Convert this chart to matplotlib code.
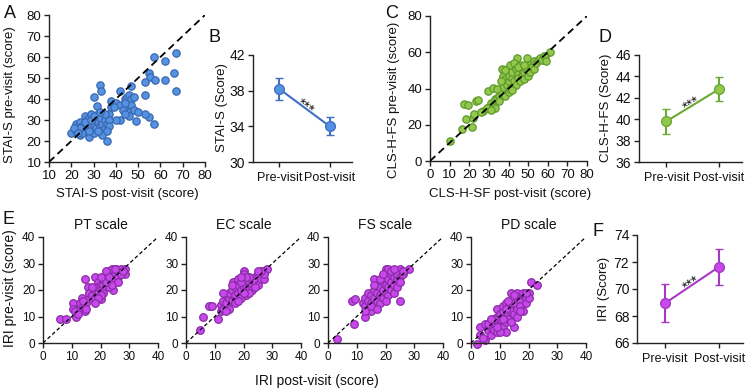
import numpy as np
import matplotlib
matplotlib.use("Agg")
import matplotlib.pyplot as plt
import math

plt.rcParams['font.family'] = ['Liberation Sans', 'DejaVu Sans']

# ---------------- data ----------------
# Panel A: STAI-S (post, pre)
stai_post = [36,34,28,20,49,57,55,53,53,33,33.5,30,42,47,31.5,57,62,67,66,62,67,55,55.5,57.5,53,
             38,40,42,44,45,46,47,48,45,43,46,47,44,42,40,38,37,39,46,44,48,50,
             22,22,23,24,24,25,26,27,27,28,28,29,29,30,30,31,31,32,32,33,33,34,35,35,36,37,37,
             25,26,28,29,30,32,24,21,23,35,36,33]
stai_pre = [20,23,23,24,29.5,28,31.5,33,42,46.5,44,41,44,46,36.5,60,58,62,52.5,49,44,52.5,50.5,49,48,
            39,38,37,40,41,42,40,41,36,35,34,37,38,30,30,36,33,36,32,33,35,34,
            28,25,27,29,23,24,32,30,27,31,22,33,27,28,24,30,26,33,29,27,31,28,30,26,28,30,27,
            27,29,25,30,32,25,26,26,24,33,25,34]

# Panel C: CLS-H-FS (post, pre)
cls_post = [10.2,16.2,17.5,19.2,18.4,22.1,21.4,22.6,23.5,24.7,27.2,29.8,32.3,36.6,44.3,49.4,61.4,57.9,58.7,
            30,31,32,33,34,35,35,36,37,37,38,38,39,39,40,40,40,41,41,42,42,43,43,44,44,45,45,46,46,47,47,
            48,48,49,50,50,51,51,52,53,53,54,55,56,57,58,59,36,34,38,42,45,48,33,29,31,26]
cls_pre = [11.1,17.6,31.4,30.8,23.1,23.5,18.9,25.9,32.9,33.8,27.7,38.8,40.3,50.8,56.9,56.9,60,55.5,58.2,
           30,32,31,34,35,36,33,38,41,47,45,36,42,51,44,47,38,53,40,46,49,44,54,51,42,48,46,53,44,50,47,
           49,45,51,50,47,53,49,52,55,51,54,56,57,56,58,55,44,40,50,39,52,53,29,29,28,27]

# Panel E: IRI subscales (post, pre)
pt_post = [6,8,10.5,10.5,11.5,12.5,14.5,13.5,14.5,15.5,17,18,19,20,24.5,28.5,28.5,25.5,
           11,12,13,14,15,16,16,17,18,18,19,19,20,20,21,21,22,22,23,23,24,24,25,25,26,26,27,27,28,
           23,22,21,20,17,19,18,24,26,22,20,15,14,25,23]
pt_pre = [9,9,15,13,10,13,12,17,24,21,19.5,25,23,16.5,20,26,28,28,
          12,11,15,14,15,17,19,18,20,17,21,19,22,20,22,24,21,25,23,27,28,25,26,24,27,25,28,26,27,
          21,27,19,18,21,17,15,22,23,23,25,13,16,28,25]

ec_post = [5,6,8,9,11,12,12,13,13,14,14,15,15,16,16,16.5,17,17,18,18,18,19,19,20,20,20,20,21,21,21,
           22,22,23,23,23,24,24,25,25,26,26,27,27,28,27,22,19,17,15,14,24,26,25,13,16,22,21,18,20,19]
ec_pre = [5,10,14,14,9,14.5,12,13,16,15,18,17,19,16,20,23,18,21,19,22,24,20,17,21,23,27,26,20,22,18,
          23,21,24,22,20,25,23,26,22,25,24,27,24,28,26,25,23,15,13,12,21,27,27,19,22,19,25,16,19,25]

fs_post = [3,9,8.5,9.5,13,16,20,21,25,25,28,
           12,13,13,14,14,14,15,15,15,16,16,16,17,17,17,18,18,18,19,19,19,20,20,20,21,21,21,22,22,22,
           23,23,23,24,24,24,25,25,26,26,15,17,18,19,22,23,20,13,16]
fs_pre = [1.5,7,16,16.5,10,24,28,28,16,28,28,
          15,14,17,13,16,19,15,18,12,17,14,20,16,19,22,18,15,21,20,17,23,19,22,25,21,18,24,23,20,26,
          22,25,19,24,26,21,25,23,26,27,14,13,24,26,27,28,16,12,22]

pd_post = [2,5,3,3,4,5,6,7,7,8,8,9,9,9,10,10,10,11,11,11,12,12,12,13,13,13,14,14,14,15,15,15,
           16,16,16,17,17,18,18,18,19,19,20,20,21,23,12,10,8,6,14,16,11,13,17,9,7,19,15,12]
pd_pre = [-0.5,1,3,6,2,7,5,6,3,8,5,10,4,13,7,11,9,12,6,14,10,8,15,13,11,9,14,19,12,15,11,6,
          17,13,19,16,14,18,19,12,17,15,19,17,23,22,4,4,9,7,8,10,9,16,12,6,9,19,18,13]

# Mean +/- error panels
cats = ['Pre-visit', 'Post-visit']
stai_mean = [38.2, 34.0]
stai_err = [1.2, 1.0]
clsh_mean = [39.8, 42.8]
clsh_err = [1.2, 1.1]
iri_mean = [68.95, 71.65]
iri_err = [1.4, 1.35]

# ---------------- style ----------------
BLUE_F, BLUE_E, BLUE_L = '#5592E3', '#3A68B0', '#3F70C2'
GREEN_F, GREEN_E, GREEN_L = '#93C84D', '#5E9A2A', '#6AA932'
PURP_F, PURP_E, PURP_L = '#C948EC', '#8B2CA8', '#A638C4'
W, H = 746, 390

fig = plt.figure(figsize=(W/100, H/100), dpi=100)

def ax_px(l, t, r, b):
    return fig.add_axes([l/W, 1-b/H, (r-l)/W, (b-t)/H])

def style(ax, fs=9):
    for s in ['top', 'right']:
        ax.spines[s].set_visible(False)
    for s in ['left', 'bottom']:
        ax.spines[s].set_color('#222222')
        ax.spines[s].set_linewidth(1.0)
    ax.tick_params(direction='out', length=3.5, width=1.0, colors='#222222', labelsize=fs,
                   labelcolor='#111111', pad=2)

def scatter_panel(ax, x, y, fc, ec, lim, ticks_x, ticks_y, fs=9.5, s=28, dash_lw=1.3, dashes=(4, 2.5)):
    ax.plot(lim, lim, color='black', lw=dash_lw, ls=(0, dashes), zorder=3)
    ax.scatter(x, y, s=s, facecolor=fc, edgecolor=ec, linewidth=0.9, zorder=2, clip_on=False)
    ax.set_xlim(lim)
    ax.set_ylim(lim)
    ax.set_xticks(ticks_x)
    ax.set_yticks(ticks_y)
    style(ax, fs)

def stars(ax, m, lc):
    p0 = ax.transData.transform((0, m[0]))
    p1 = ax.transData.transform((1, m[1]))
    ang = math.degrees(math.atan2(p1[1]-p0[1], p1[0]-p0[0]))
    off = 1.0
    nx, ny = -math.sin(math.radians(ang))*off, math.cos(math.radians(ang))*off
    ax.annotate('***', xy=(0.5, (m[0]+m[1])/2), xytext=(nx, ny), textcoords='offset points',
                rotation=ang, rotation_mode='anchor', ha='center', va='center', fontsize=11,
                color='#111111')

def mean_panel(ax, m, e, fc, ec, lc, ylim, yticks):
    ax.errorbar([0, 1], m, yerr=e, color=lc, lw=1.5, capsize=3, capthick=1.5,
                marker='o', ms=7, mfc=fc, mec=lc, mew=1.0, zorder=3, clip_on=False)
    ax.set_xlim(-0.52, 1.44)
    ax.set_ylim(ylim)
    ax.set_yticks(yticks)
    ax.set_xticks([0, 1])
    ax.set_xticklabels(cats)
    style(ax, 10)
    ax.tick_params(axis='x', labelsize=9, pad=4)
    stars(ax, m, lc)

# Panel A
axA = ax_px(49, 15, 205, 162)
scatter_panel(axA, stai_post, stai_pre, BLUE_F, BLUE_E, [10, 80],
              range(10, 81, 10), range(10, 81, 10))

# Panel B
axB = ax_px(253, 55, 352, 162)
mean_panel(axB, stai_mean, stai_err, BLUE_F, BLUE_E, BLUE_L, (30, 42), [30, 34, 38, 42])

# Panel C
axC = ax_px(430, 16, 587, 161)
scatter_panel(axC, cls_post, cls_pre, GREEN_F, GREEN_E, [0, 80],
              range(0, 81, 10), range(0, 81, 20))

# Panel D
axD = ax_px(639, 55, 742, 162)
mean_panel(axD, clsh_mean, clsh_err, GREEN_F, GREEN_E, GREEN_L, (36, 46), range(36, 47, 2))

# Panel E
e_sets = [(pt_post, pt_pre, 'PT scale'), (ec_post, ec_pre, 'EC scale'),
          (fs_post, fs_pre, 'FS scale'), (pd_post, pd_pre, 'PD scale')]
for left, (xs, ys, title) in zip([43, 186, 328, 471], e_sets):
    ax = ax_px(left, 237, left+115, 343)
    scatter_panel(ax, xs, ys, PURP_F, PURP_E, [0, 40], range(0, 41, 10), range(0, 41, 10),
                  fs=8.5, s=30, dash_lw=0.9, dashes=(3, 2))
    ax.set_title(title, fontsize=10, pad=6, color='#111111')

# Panel F
axF = ax_px(637, 235, 743, 343)
mean_panel(axF, iri_mean, iri_err, PURP_F, PURP_E, PURP_L, (66, 74), range(66, 75, 2))

# Axis labels (figure text)
def ftext(x, y, s, **kw):
    fig.text(x/W, 1-y/H, s, color='#111111', **kw)

ftext(10, 95, 'STAI-S pre-visit (score)', rotation=90, ha='center', va='center', fontsize=9.5)
ftext(127, 194, 'STAI-S post-visit (score)', ha='center', va='center', fontsize=9.5)
ftext(222, 108, 'STAI-S (Score)', rotation=90, ha='center', va='center', fontsize=9.5)
ftext(394, 100, 'CLS-H-FS pre-visit (score)', rotation=90, ha='center', va='center', fontsize=9.5)
ftext(510, 194, 'CLS-H-SF post-visit (score)', ha='center', va='center', fontsize=9.5)
ftext(606, 108, 'CLS-H-FS (Score)', rotation=90, ha='center', va='center', fontsize=9.5)
ftext(10, 288, 'IRI pre-visit (score)', rotation=90, ha='center', va='center', fontsize=10)
ftext(317, 381, 'IRI post-visit (score)', ha='center', va='center', fontsize=10)
ftext(604, 289, 'IRI (Score)', rotation=90, ha='center', va='center', fontsize=9.5)

# Panel letters
for x, y, s in [(4, 13, 'A'), (208, 37, 'B'), (385, 13, 'C'), (598, 37, 'D'),
                (2, 219, 'E'), (592, 232, 'F')]:
    ftext(x, y, s, ha='left', va='center', fontsize=13)

fig.savefig('out.png', dpi=100)
